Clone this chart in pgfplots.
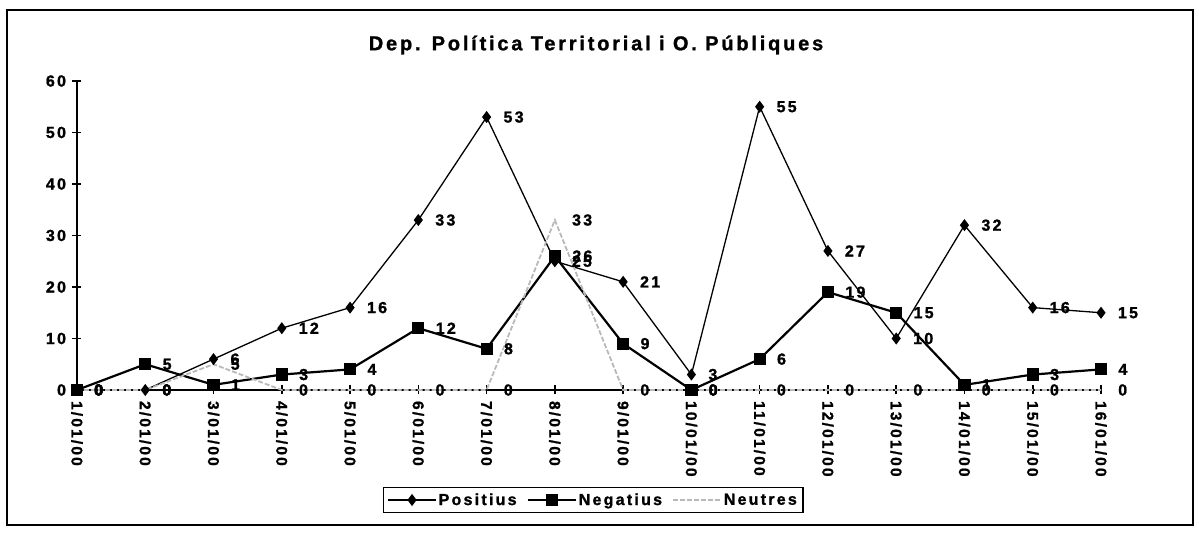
\documentclass[border=0pt]{standalone}
\usepackage{pgfplots}
\pgfplotsset{compat=1.18}
\usepackage{fontspec}
\setmainfont{Liberation Sans}[LetterSpace=14, BoldFeatures={FakeBold=1.2}]
\definecolor{neutgray}{RGB}{185,185,185}
\begin{document}
\begin{tikzpicture}[x=1pt,y=1pt]
\useasboundingbox (0,0) rectangle (1199,534);
\draw[line width=2.5pt] (7,9) rectangle (1193,524);
\node[font=\fontsize{20}{22}\selectfont\bfseries] at (596,489) {Dep. Política Territorial i O. Públiques};
\begin{axis}[
  at={(77pt,144pt)}, anchor=south west, scale only axis,
  width=1024pt, height=309pt,
  xmin=0, xmax=15, ymin=0, ymax=60,
  /pgf/number format/assume math mode=true,
  axis x line=bottom, axis y line=left,
  axis line style={-, line width=1.6pt},
  ytick={0,10,...,60},
  xtick={0,...,15},
  xticklabels={1/01/00,2/01/00,3/01/00,4/01/00,5/01/00,6/01/00,7/01/00,8/01/00,9/01/00,10/01/00,11/01/00,12/01/00,13/01/00,14/01/00,15/01/00,16/01/00},
  tick align=center, major tick length=9pt,
  tick style={line width=1.6pt, black},
  yticklabel style={font=\fontsize{16}{16}\selectfont\bfseries, xshift=-3pt},
  xticklabel style={font=\fontsize{15.5}{15.5}\selectfont\bfseries, yshift=-3pt, rotate=-90, anchor=west},
  clip=false,
  nodes near coords={\pgfmathprintnumber[assume math mode=true]{\pgfplotspointmeta}},
  nodes near coords align={horizontal},
  every node near coord/.append style={font=\fontsize{16}{16}\selectfont\bfseries, text=black, anchor=west, xshift=13pt},
  legend columns=3,
  legend style={at={(0.504,-0.356)}, anchor=center, draw=black, line width=1.5pt,
    font=\fontsize{16}{16}\selectfont\bfseries, inner xsep=4pt, inner ysep=4pt,
    /tikz/every even column/.append style={column sep=8pt}},
  legend image code/.code={\draw[mark repeat=2,mark phase=2,#1] plot coordinates {(0pt,0pt) (24pt,0pt) (48pt,0pt)};},
]
\addplot[black, line width=1.3pt, mark=diamond*, mark size=5pt, mark options={solid}] coordinates {
(0,0) (1,0) (2,6) (3,12) (4,16) (5,33) (6,53) (7,25) (8,21) (9,3) (10,55) (11,27) (12,10) (13,32) (14,16) (15,15)};
\addlegendentry{Positius}
\addplot[black, line width=2.2pt, mark=square*, mark size=5pt, mark options={solid}] coordinates {
(0,0) (1,5) (2,1) (3,3) (4,4) (5,12) (6,8) (7,26) (8,9) (9,0) (10,6) (11,19) (12,15) (13,1) (14,3) (15,4)};
\addlegendentry{Negatius}
\addplot[neutgray, line width=1.8pt, dash pattern=on 5pt off 2pt, mark=none] coordinates {
(0,0) (1,0) (2,5) (3,0) (4,0) (5,0) (6,0) (7,33) (8,0) (9,0) (10,0) (11,0) (12,0) (13,0) (14,0) (15,0)};
\addlegendentry{Neutres}
\end{axis}
\end{tikzpicture}
\end{document}
